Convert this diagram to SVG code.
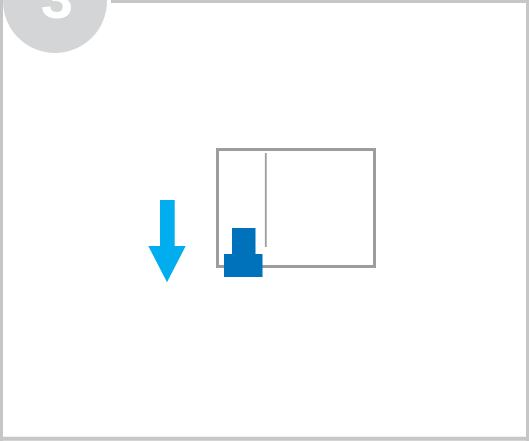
<svg xmlns="http://www.w3.org/2000/svg" width="529" height="441" viewBox="0 0 529 441">
  <style>
    .frame { stroke: #c6c6c6; stroke-width: 3; fill: none; }
    .box { stroke: #9d9d9d; fill: none; }
    .stamp { fill: #0071bb; }
  </style>
  <rect width="529" height="441" fill="#ffffff"/>
  <g id="frame">
    <line class="frame" x1="111" y1="1.5" x2="529" y2="1.5"/>
    <line class="frame" x1="1.5" y1="0" x2="1.5" y2="441"/>
    <line class="frame" x1="527.5" y1="0" x2="527.5" y2="441"/>
    <line class="frame" x1="0" y1="438.8" x2="529" y2="438.8" style="stroke-width:4"/>
  </g>
  <g id="step-badge">
    <circle cx="55" cy="1" r="52" fill="#d4d5d6"/>
    <text x="57" y="18" text-anchor="middle" font-family="Liberation Sans, Arial, sans-serif" font-weight="bold" font-size="58" fill="#ffffff">3</text>
  </g>
  <g id="arrow">
    <polygon points="160,200 174.7,200 174.7,246 185.7,246 167,282.3 148.3,246 160,246" fill="#00aeef"/>
  </g>
  <g id="window">
    <rect class="box" x="217.5" y="149.5" width="157" height="117" stroke-width="3"/>
    <line class="box" x1="265.8" y1="153" x2="265.8" y2="247" stroke-width="1.8"/>
  </g>
  <g id="stamp">
    <rect class="stamp" x="232" y="228" width="23.5" height="27"/>
    <rect class="stamp" x="224" y="254" width="38.5" height="23"/>
  </g>
</svg>
